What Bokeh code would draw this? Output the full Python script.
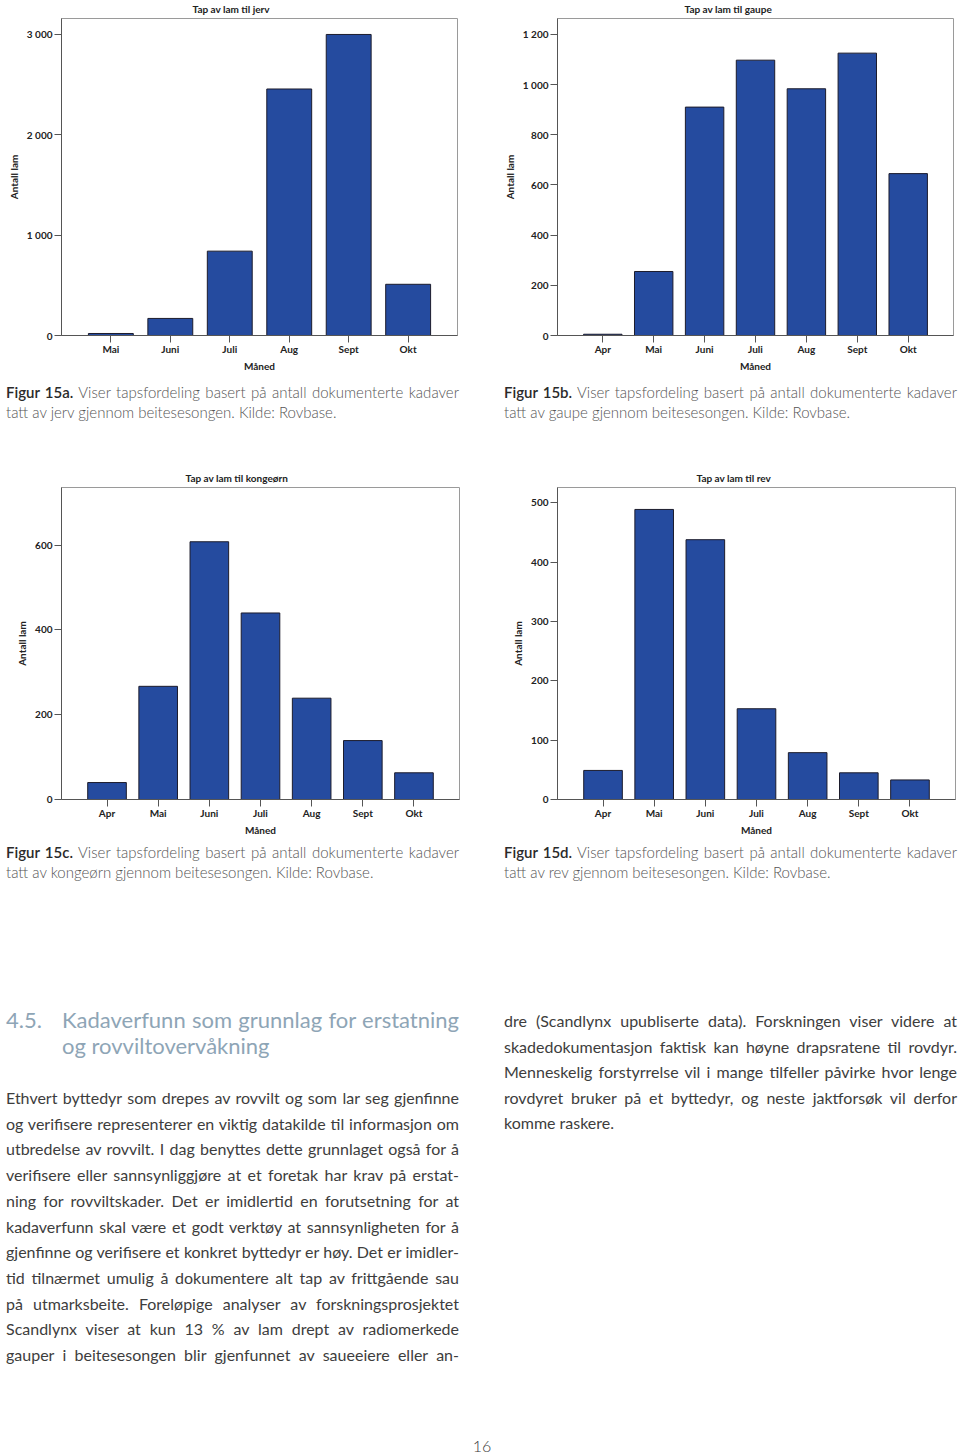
from bokeh.plotting import figure
from bokeh.models import Range1d, FixedTicker, Div
from bokeh.layouts import column, row
from bokeh.embed import file_html
from bokeh.resources import INLINE

# ---------------- data ----------------
months_a = ["Mai", "Juni", "Juli", "Aug", "Sept", "Okt"]
months_all = ["Apr", "Mai", "Juni", "Juli", "Aug", "Sept", "Okt"]

jerv = [20, 170, 840, 2455, 2998, 510]
gaupe = [5, 255, 910, 1097, 983, 1125, 645]
kongeorn = [40, 267, 608, 440, 239, 139, 63]
rev = [49, 489, 438, 153, 79, 45, 33]

ticks_a = [0, 1000, 2000, 3000]
labels_a = ["0", "1 000", "2 000", "3 000"]
ticks_b = [0, 200, 400, 600, 800, 1000, 1200]
labels_b = ["0", "200", "400", "600", "800", "1 000", "1 200"]
ticks_c = [0, 200, 400, 600]
labels_c = ["0", "200", "400", "600"]
ticks_d = [0, 100, 200, 300, 400, 500]
labels_d = ["0", "100", "200", "300", "400", "500"]

titles = ["Tap av lam til jerv", "Tap av lam til gaupe",
          "Tap av lam til kongeørn", "Tap av lam til rev"]
x_label = "Måned"
y_label = "Antall lam"

captions = [
    ("Figur 15a.", "Viser tapsfordeling basert på antall dokumenterte kadaver",
     "tatt av jerv gjennom beitesesongen. Kilde: Rovbase."),
    ("Figur 15b.", "Viser tapsfordeling basert på antall dokumenterte kadaver",
     "tatt av gaupe gjennom beitesesongen. Kilde: Rovbase."),
    ("Figur 15c.", "Viser tapsfordeling basert på antall dokumenterte kadaver",
     "tatt av kongeørn gjennom beitesesongen. Kilde: Rovbase."),
    ("Figur 15d.", "Viser tapsfordeling basert på antall dokumenterte kadaver",
     "tatt av rev gjennom beitesesongen. Kilde: Rovbase."),
]

heading_num = "4.5."
heading_lines = ["Kadaverfunn som grunnlag for erstatning", "og rovviltovervåkning"]
left_lines = [
    "Ethvert byttedyr som drepes av rovvilt og som lar seg gjenfinne",
    "og verifisere representerer en viktig datakilde til informasjon om",
    "utbredelse av rovvilt. I dag benyttes dette grunnlaget også for å",
    "verifisere eller sannsynliggjøre at et foretak har krav på erstat-",
    "ning for rovviltskader. Det er imidlertid en forutsetning for at",
    "kadaverfunn skal være et godt verktøy at sannsynligheten for å",
    "gjenfinne og verifisere et konkret byttedyr er høy. Det er imidler-",
    "tid tilnærmet umulig å dokumentere alt tap av frittgående sau",
    "på utmarksbeite. Foreløpige analyser av forskningsprosjektet",
    "Scandlynx viser at kun 13 % av lam drept av radiomerkede",
    "gauper i beitesesongen blir gjenfunnet av saueeiere eller an-",
]
right_lines = [
    "dre (Scandlynx upubliserte data). Forskningen viser videre at",
    "skadedokumentasjon faktisk kan høyne drapsratene til rovdyr.",
    "Menneskelig forstyrrelse vil i mange tilfeller påvirke hvor lenge",
    "rovdyret bruker på et byttedyr, og neste jaktforsøk vil derfor",
    "komme raskere.",
]
page_number = "16"

# ---------------- styles ----------------
BAR = "#254B9F"
CH_FONT = "Lato"
TXT_FONT = "Lato"
INK = "#222222"


def make_chart(title, title_left, months, vals, yticks, ylabels, ymax,
               pad_l, pad_r, height, bl, br, bt, bb):
    n = len(months)
    xs = list(range(1, n + 1))
    p = figure(width=480, height=height,
               x_range=Range1d(1 - pad_l, n + pad_r),
               y_range=Range1d(0, ymax),
               output_backend="svg", toolbar_location=None,
               min_border_left=bl, min_border_right=br,
               min_border_top=bt, min_border_bottom=bb)
    p.vbar(x=xs, top=vals, width=0.755, fill_color=BAR,
           line_color="#1c1c2c", line_width=1)
    p.xgrid.visible = False
    p.ygrid.visible = False
    p.outline_line_color = "#9a9a9a"
    p.outline_line_width = 1
    p.background_fill_color = "white"
    p.border_fill_color = "white"

    p.title.text = title
    p.title.align = "left"
    p.title.offset = title_left
    p.title.vertical_align = "bottom"
    p.title.standoff = 8
    p.title.text_font = CH_FONT
    p.title.text_font_size = "10px"
    p.title.text_font_style = "bold"
    p.title.text_color = INK

    xa = p.xaxis[0]
    xa.ticker = FixedTicker(ticks=xs)
    xa.major_label_overrides = {x: m for x, m in zip(xs, months)}
    ya = p.yaxis[0]
    ya.ticker = FixedTicker(ticks=yticks)
    ya.major_label_overrides = {t: l for t, l in zip(yticks, ylabels)}
    xa.axis_label = x_label
    ya.axis_label = y_label
    for ax in (xa, ya):
        ax.axis_line_color = "#555555"
        ax.major_tick_line_color = "#555555"
        ax.minor_tick_line_color = None
        ax.major_tick_in = 0
        ax.major_tick_out = 7
        ax.major_label_text_font = CH_FONT
        ax.major_label_text_font_size = "10px"
        ax.major_label_text_font_style = "bold"
        ax.major_label_text_color = INK
        ax.axis_label_text_font = CH_FONT
        ax.axis_label_text_font_size = "10px"
        ax.axis_label_text_font_style = "bold"
        ax.axis_label_text_color = INK
    xa.major_label_standoff = 0
    ya.major_label_standoff = 2
    xa.axis_label_standoff = 2
    ya.axis_label_standoff = 4
    return p


# the whole page is shifted up by 4 px (column margin) so the top titles fit
fig_a = make_chart(titles[0], 131, months_a, jerv, ticks_a, labels_a, 3157,
                   0.83, 0.83, 384, 61, 23, 22, 45)
fig_b = make_chart(titles[1], 127, months_all, gaupe, ticks_b, labels_b, 1263,
                   0.89, 0.89, 384, 77, 7, 21, 45)
fig_c = make_chart(titles[2], 124, months_all, kongeorn, ticks_c, labels_c, 736,
                   0.89, 0.89, 375, 61, 21, 22, 40)
fig_d = make_chart(titles[3], 139, months_all, rev, ticks_d, labels_d, 526,
                   0.89, 0.89, 375, 77, 5, 21, 41)


def just_line(txt, last=False):
    if last:
        return f'<div style="white-space:nowrap;text-align:left">{txt}</div>'
    return ('<div style="white-space:nowrap;text-align:justify;'
            f'text-align-last:justify">{txt}</div>')


def caption_div(cap, left, pad_top, lh, height):
    fig, rest, l2 = cap
    html = (f'<div style="margin-left:{left}px;width:453px;padding-top:{pad_top}px;'
            f'font-family:{TXT_FONT};font-size:15px;line-height:{lh}px;'
            'color:#555555;font-weight:300">'
            + just_line(f'<span style="color:#2a2a2a;font-weight:600">{fig}</span> {rest}')
            + just_line(l2, last=True) + '</div>')
    return Div(text=html, width=480, height=height, margin=0,
               styles={"overflow": "visible"})


cap_a = caption_div(captions[0], 6, 3, 19.5, 85)
cap_b = caption_div(captions[1], 24, 3, 19.5, 85)
cap_c = caption_div(captions[2], 6, 2, 20, 160)
cap_d = caption_div(captions[3], 24, 2, 20, 160)

BODY = ('font-family:Lato;font-size:16px;color:#3d3d3d;font-weight:400;')

head_html = (
    '<div style="position:relative;height:52px;font-family:Lato;font-size:22px;'
    'line-height:26px;color:#8ea5b6;font-weight:400">'
    f'<div style="position:absolute;left:0;top:0">{heading_num}</div>'
    '<div style="position:absolute;left:56px;top:0;width:397px">'
    + just_line(heading_lines[0]) + just_line(heading_lines[1], last=True)
    + '</div></div>'
)
body_left = "".join(just_line(t) for t in left_lines)
left_html = (
    '<div style="margin-left:6px;width:453px;padding-top:7px">' + head_html
    + f'<div style="margin-top:26px;{BODY}line-height:25.7px">' + body_left
    + '</div></div>'
)
body_right = "".join(just_line(t, last=(i == len(right_lines) - 1))
                     for i, t in enumerate(right_lines))
right_html = (
    f'<div style="margin-left:24px;width:453px;padding-top:8px;{BODY}'
    'line-height:25.5px">' + body_right + '</div>'
)
text_left = Div(text=left_html, width=480, height=420, margin=0)
text_right = Div(text=right_html, width=480, height=420, margin=0)

page_div = Div(
    text=('<div style="width:964px;text-align:center;font-family:Lato;'
          'font-size:16px;line-height:15px;padding-top:18px;color:#3a3a3a;'
          f'font-weight:300">{page_number}</div>'),
    width=960, height=33, margin=0)

layout = column(
    row(fig_a, fig_b, spacing=0),
    row(cap_a, cap_b, spacing=0),
    row(fig_c, fig_d, spacing=0),
    row(cap_c, cap_d, spacing=0),
    row(text_left, text_right, spacing=0),
    page_div,
    spacing=0,
    margin=(-4, 0, 0, 0),
)

with open("out.html", "w") as f:
    f.write(file_html(layout, INLINE))
